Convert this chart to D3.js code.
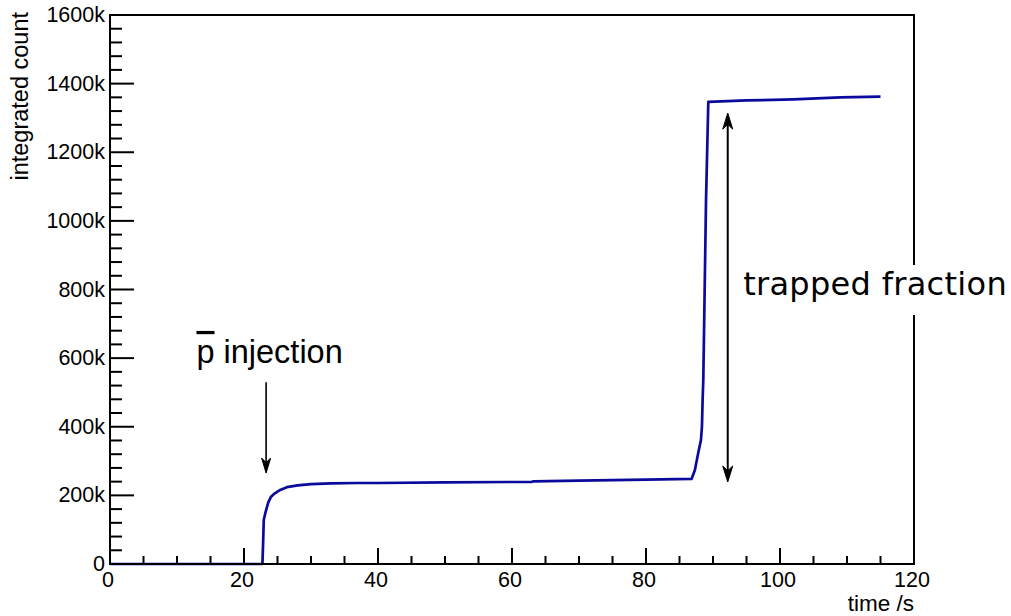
<!DOCTYPE html>
<html>
<head>
<meta charset="utf-8">
<script src="https://cdn.jsdelivr.net/npm/d3@7"></script>
<style>
  html, body { margin: 0; padding: 0; background: #fff; }
  svg { display: block; }
  .bar { text-decoration: overline; text-decoration-thickness: 1.6px; }
</style>
</head>
<body>
<svg id="chart" width="1011" height="616"></svg>
<script>
// Integrated detector count versus time (k = thousands)
const timeS = [0, 22.75, 22.85, 22.95, 23.2, 23.6, 24.0, 24.6, 25.4, 26.4, 28, 30, 33, 37, 40, 50, 60, 63, 63.2, 70, 80, 86.8, 87.3, 87.8, 88.2, 88.35, 88.45, 88.55, 88.96, 89.3, 95, 102, 109, 115];
const countK = [0, 0, 60, 128, 150, 178, 195, 206, 216, 224, 229, 233, 235, 236, 236, 238, 239, 239.5, 241, 243, 246, 248, 274, 324, 361, 400, 478, 536, 1061, 1347, 1351, 1354, 1360, 1362];

const xTicks = [0, 20, 40, 60, 80, 100, 120];
const yTicks = [0, 200, 400, 600, 800, 1000, 1200, 1400, 1600];
const yTickLabels = ["0", "200k", "400k", "600k", "800k", "1000k", "1200k", "1400k", "1600k"];

// Annotations: injection marker and trapped-fraction span
const injection = { t: 23.3, from: 530, to: 265, label: "injection", textT: 12.9, textV: 586 };
const trapped = { t: 92.2, low: 239, high: 1314, label: "trapped fraction", textT: 94.5, textV: 784 };

const svg = d3.select("#chart");
const frame = { left: 110, right: 914, top: 15, bottom: 564 };

const x = d3.scaleLinear().domain([0, 120]).range([frame.left, frame.right]);
const y = d3.scaleLinear().domain([0, 1600]).range([frame.bottom, frame.top]);

const labelFont = "'Liberation Sans', Arial, Helvetica, sans-serif";

// Minor and major ticks, drawn inside the frame
const xMinor = d3.range(0, 121, 5);
const yMinor = d3.range(0, 1601, 40);

const axes = svg.append("g").attr("stroke", "#000").attr("stroke-width", 2);
axes.selectAll("line.xt").data(xMinor).join("line")
  .attr("x1", d => x(d)).attr("x2", d => x(d))
  .attr("y1", frame.bottom).attr("y2", d => frame.bottom - (d % 20 === 0 ? 16 : 8));
axes.selectAll("line.yt").data(yMinor).join("line")
  .attr("y1", d => y(d)).attr("y2", d => y(d))
  .attr("x1", frame.left).attr("x2", d => frame.left + (d % 200 === 0 ? 24 : 12));

// Data curve
const line = d3.line().x((d, i) => x(timeS[i])).y(d => y(d));
svg.append("path")
  .datum(countK)
  .attr("d", line)
  .attr("fill", "none")
  .attr("stroke", "#0a0a9c")
  .attr("stroke-width", 2.7)
  .attr("stroke-linejoin", "round");

// Frame
svg.append("rect")
  .attr("x", frame.left).attr("y", frame.top)
  .attr("width", frame.right - frame.left).attr("height", frame.bottom - frame.top)
  .attr("fill", "none").attr("stroke", "#000").attr("stroke-width", 2);

// Tick labels
svg.append("g").selectAll("text").data(xTicks).join("text")
  .attr("x", d => x(d) - 2).attr("y", frame.bottom + 23)
  .attr("text-anchor", "middle")
  .attr("font-family", labelFont).attr("font-size", 21.5)
  .text(d => d);

svg.append("g").selectAll("text").data(yTicks).join("text")
  .attr("x", frame.left - 5).attr("y", d => y(d))
  .attr("dy", "0.33em")
  .attr("text-anchor", "end")
  .attr("font-family", labelFont).attr("font-size", 21.5)
  .text((d, i) => yTickLabels[i]);

// Axis titles
svg.append("text")
  .attr("x", frame.right).attr("y", 611)
  .attr("text-anchor", "end")
  .attr("font-family", labelFont).attr("font-size", 22.5)
  .text("time /s");

svg.append("text")
  .attr("transform", `translate(28,${frame.top - 3}) rotate(-90)`)
  .attr("text-anchor", "end")
  .attr("font-family", labelFont).attr("font-size", 23.5)
  .text("integrated count");

// Filled arrowhead with a notched back; dir +1 points down, -1 points up
function arrowHead(g, px, py, dir, len, half) {
  const back = py - dir * len;
  const notch = py - dir * len * 0.7;
  g.append("path")
    .attr("d", `M${px},${py} L${px - half},${back} L${px},${notch} L${px + half},${back} Z`)
    .attr("fill", "#000").attr("stroke", "#000").attr("stroke-width", 1);
}

// Injection arrow
const inj = svg.append("g");
inj.append("line")
  .attr("x1", x(injection.t)).attr("x2", x(injection.t))
  .attr("y1", y(injection.from)).attr("y2", y(injection.to) - 8)
  .attr("stroke", "#000").attr("stroke-width", 1.6);
arrowHead(inj, x(injection.t), y(injection.to), 1, 15, 4.5);

const injText = svg.append("text")
  .attr("x", x(injection.textT)).attr("y", y(injection.textV))
  .attr("font-family", labelFont).attr("font-size", 32.5);
injText.append("tspan").attr("class", "bar").text("p");
injText.append("tspan").text(" " + injection.label);

// Trapped-fraction double arrow
const tr = svg.append("g");
tr.append("line")
  .attr("x1", x(trapped.t)).attr("x2", x(trapped.t))
  .attr("y1", y(trapped.high) + 8).attr("y2", y(trapped.low) - 8)
  .attr("stroke", "#000").attr("stroke-width", 2);
arrowHead(tr, x(trapped.t), y(trapped.low), 1, 16, 5);
arrowHead(tr, x(trapped.t), y(trapped.high), -1, 16, 5);

// Label box with white background over the frame edge
svg.append("rect")
  .attr("x", 736).attr("y", 265).attr("width", 275).attr("height", 50)
  .attr("fill", "#fff");
svg.append("text")
  .attr("x", x(trapped.textT)).attr("y", y(trapped.textV))
  .attr("font-family", "'DejaVu Sans', sans-serif").attr("font-size", 32)
  .attr("letter-spacing", 0.3)
  .text(trapped.label);
</script>
</body>
</html>
